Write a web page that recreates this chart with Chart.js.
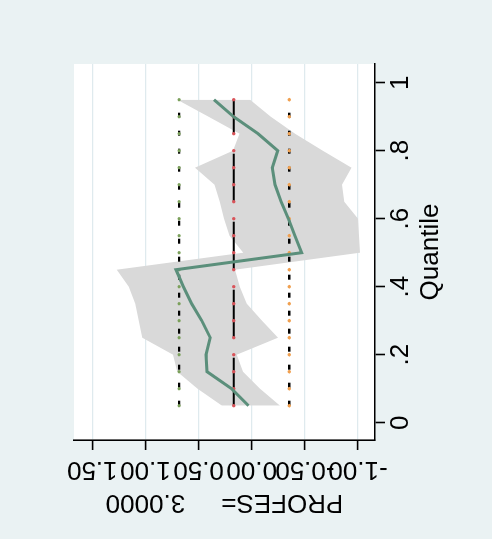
<!DOCTYPE html>
<html>
<head>
<meta charset="utf-8">
<script src="https://cdn.jsdelivr.net/npm/chart.js@4.4.1/dist/chart.umd.min.js"></script>
<style>
  html, body { margin: 0; padding: 0; width: 492px; height: 539px; overflow: hidden; background: #eaf2f3; }
  /* Stata graph turned on its side: draw upright, then turn 90deg left */
  #wrap { position: absolute; left: 0; top: 0; width: 539px; height: 492px;
          transform-origin: 0 0; transform: translateY(539px) rotate(-90deg); }
  canvas { display: block; }
</style>
</head>
<body>
<div id="wrap"><canvas id="qplot" width="539" height="492"></canvas></div>
<script>
// Quantiles estimated
const quantiles = [0.05, 0.10, 0.15, 0.20, 0.25, 0.30, 0.35, 0.40, 0.45, 0.50,
                   0.55, 0.60, 0.65, 0.70, 0.75, 0.80, 0.85, 0.90, 0.95];

// Quantile regression coefficient and its confidence band
const qrCoef  = [0.03, 0.19, 0.42, 0.43, 0.39, 0.47, 0.565, 0.643, 0.712, -0.47,
                 -0.407, -0.345, -0.276, -0.219, -0.194, -0.245, -0.06, 0.17, 0.355];
const qrUpper = [0.28, 0.51, 0.70, 0.74, 1.03, 1.063, 1.095, 1.157, 1.27, 0.08,
                 0.21, 0.26, 0.30, 0.35, 0.533, 0.176, 0.115, 0.407, 0.70];
const qrLower = [-0.266, -0.078, 0.082, 0.141, -0.247, -0.097, 0.047, 0.113, 0.157, -1.02,
                 -1.01, -1.0, -0.87, -0.85, -0.94, -0.668, -0.407, -0.18, 0.016];

// OLS estimate and its confidence limits
const olsCoef = 0.169;
const olsUpper = 0.683;
const olsLower = -0.353;

// Axes
const quantileTicks = [0, 0.2, 0.4, 0.6, 0.8, 1];
const quantileTickLabels = ['0', '.2', '.4', '.6', '.8', '1'];
const valueTicks = [-1, -0.5, 0, 0.5, 1, 1.5];
const valueTickLabels = ['-1.00', '-0.50', '0.00', '0.50', '1.00', '1.50'];

const FONT = '"Liberation Sans", Arial, sans-serif';
Chart.defaults.font.family = FONT;
Chart.defaults.color = '#000';

function pts(values) {
    return quantiles.map((q, i) => ({ x: q, y: values[i] }));
}
function flat(v) {
    return quantiles.map(q => ({ x: q, y: v }));
}

// white plot region
const plotBg = {
    id: 'plotBg',
    beforeDraw(chart) {
        const { ctx, chartArea: a } = chart;
        ctx.save();
        ctx.fillStyle = '#ffffff';
        ctx.fillRect(a.left, a.top, a.right - a.left, a.bottom - a.top);
        ctx.restore();
    }
};

// Stata writes the y labels vertically, chart.js cannot, so draw them here
const valueLabels = {
    id: 'valueLabels',
    afterDraw(chart) {
        const s = chart.scales.y;
        const ctx = chart.ctx;
        ctx.save();
        ctx.font = '26px ' + FONT;
        ctx.fillStyle = '#000';
        ctx.textAlign = 'center';
        ctx.textBaseline = 'alphabetic';
        s.ticks.forEach((t, i) => {
            ctx.save();
            ctx.translate(s.right - 22.5, s.getPixelForValue(t.value));
            ctx.rotate(-Math.PI / 2);
            ctx.fillText(valueTickLabels[i], 0, 0);
            ctx.restore();
        });
        ctx.restore();
    }
};

const olsLine = (v, dash, dotColor, width) => ({
    data: flat(v),
    borderColor: '#000',
    borderWidth: width,
    borderDash: dash,
    pointRadius: 1.7,
    pointBorderWidth: 0,
    pointBackgroundColor: dotColor,
    fill: false,
    order: 5
});

new Chart(document.getElementById('qplot'), {
    type: 'line',
    data: {
        datasets: [
            { data: pts(qrUpper), borderWidth: 0, pointRadius: 0, fill: false, order: 10 },
            { data: pts(qrLower), borderWidth: 0, pointRadius: 0, fill: '-1',
              backgroundColor: '#d9d9d9', order: 10 },
            olsLine(olsUpper, [5, 13], '#7ba05b', 2.4),
            olsLine(olsCoef, [48, 20], '#d9545a', 2.2),
            olsLine(olsLower, [5, 13], '#f0a050', 2.4),
            { data: pts(qrCoef), borderColor: '#5b8f7b', borderWidth: 3, pointRadius: 0,
              fill: false, order: 1 }
        ]
    },
    options: {
        responsive: false,
        animation: false,
        devicePixelRatio: 1,
        layout: { padding: { top: 74, right: 64, left: 0, bottom: 0 } },
        plugins: { legend: { display: false }, tooltip: { enabled: false } },
        scales: {
            x: {
                type: 'linear',
                min: -0.0509,
                max: 1.055,
                afterFit(s) { s.height = 117; },
                afterBuildTicks(s) { s.ticks = quantileTicks.map(v => ({ value: v })); },
                grid: { drawOnChartArea: false, tickLength: 10, tickColor: '#000', tickWidth: 1.6 },
                border: { color: '#000', width: 1.6 },
                ticks: {
                    padding: 0,
                    maxRotation: 0,
                    font: { size: 26 },
                    callback: (v) => quantileTickLabels[quantileTicks.indexOf(v)]
                },
                title: { display: true, text: 'Quantile', font: { size: 26 },
                         padding: { top: 0, bottom: 46 } }
            },
            y: {
                type: 'linear',
                min: -1.16,
                max: 1.672,
                afterFit(s) { s.width = 99; },
                afterBuildTicks(s) { s.ticks = valueTicks.map(v => ({ value: v })); },
                grid: { color: '#dfeaee', lineWidth: 1.2, tickLength: 10, tickColor: '#000', tickWidth: 1.6 },
                border: { color: '#000', width: 1.6 },
                ticks: { display: false },
                title: { display: true, text: 'PROFES=     3.0000', font: { size: 26 },
                         padding: { top: 21, bottom: 0 } }
            }
        }
    },
    plugins: [plotBg, valueLabels]
});
</script>
</body>
</html>
